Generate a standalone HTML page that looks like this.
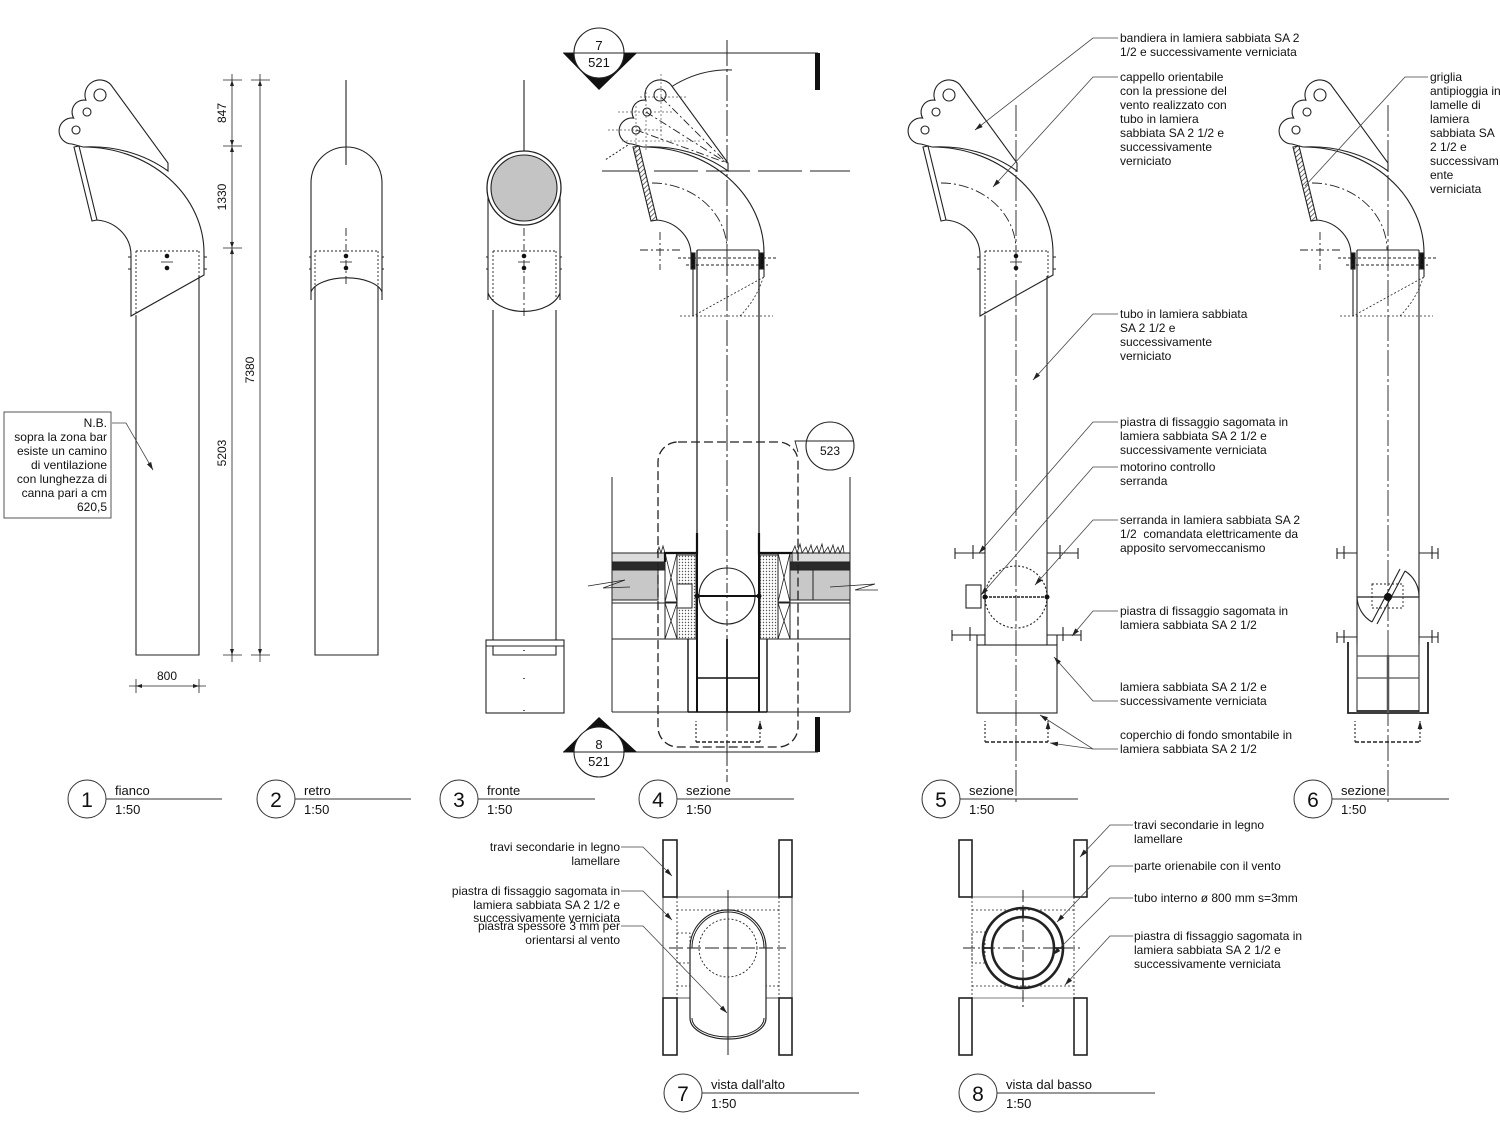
<!DOCTYPE html>
<html><head><meta charset="utf-8">
<style>
html,body{margin:0;padding:0;background:#fff;}
svg{display:block;}
text{font-family:"Liberation Sans",Arial,sans-serif;fill:#111;}
.l{font-size:12px;}
.t{font-size:13px;}
.n{font-size:21px;}
</style></head><body>
<svg width="1500" height="1125" viewBox="0 0 1500 1125" xmlns="http://www.w3.org/2000/svg">
<defs>
<marker id="ar" viewBox="0 0 10 6" refX="10" refY="3" markerWidth="8" markerHeight="5" markerUnits="userSpaceOnUse" orient="auto"><path d="M0 0 L10 3 L0 6 Z" fill="#222"/></marker>
<pattern id="hatch" width="3.5" height="3.5" patternUnits="userSpaceOnUse" patternTransform="rotate(45)"><rect width="3.5" height="3.5" fill="#fff"/><line x1="0" y1="0" x2="0" y2="3.5" stroke="#222" stroke-width="1.3"/></pattern>
<pattern id="dotp" width="3" height="3" patternUnits="userSpaceOnUse"><rect width="3" height="3" fill="#fff"/><circle cx="1.5" cy="1.5" r="0.7" fill="#555"/></pattern>
<g id="elbow" fill="none" stroke="#222" stroke-width="1.1">
 <path d="M83 147 A121 106 0 0 1 204 253"/>
 <path d="M94 220 A37 35 0 0 1 131 255"/>
</g>
<g id="flag" stroke="#222" stroke-width="1.1">
 <path d="M72 144 A13 13 0 1 1 73.7 118.1 A12 12 0 0 1 85.9 100.2 A15 15 0 0 1 110.6 84.4 L168 163 L168 171 A121 106 0 0 0 83 147 L72 144 Z" fill="#fff"/>
 <circle cx="100" cy="95" r="6" fill="#fff"/>
 <circle cx="87" cy="112" r="4" fill="#fff"/>
 <circle cx="76" cy="130" r="4" fill="#fff"/>
</g>
<polygon id="stripP" points="74,147 79,146 97,220 92,221" fill="#fff" stroke="#222" stroke-width="1.1"/>
<polygon id="stripH" points="73,147 79,146 97,220 91,221" fill="url(#hatch)" stroke="#222" stroke-width="1.1"/>
<g id="sleeveA" fill="none" stroke="#222" stroke-width="1.1">
 <path d="M131 255 L131 316 L204 275 L204 253"/>
 <path d="M136 251 L199 251 M136 251 L136 316 M199 251 L199 278" stroke-dasharray="2 2" stroke-width="0.9"/>
 <circle cx="167" cy="256" r="2.3" fill="#111" stroke="none"/>
 <circle cx="167" cy="268" r="2.3" fill="#111" stroke="none"/>
 <path d="M161 262 L173 262" stroke-width="0.8"/>
 <path d="M128 257 L131 257 M128 269 L131 269 M204 257 L207 257 M204 269 L207 269"/>
</g>
<g id="sleeveB" fill="none" stroke="#222" stroke-width="1.1">
 <path d="M137 250 L199 250"/>
 <rect x="131" y="253" width="4" height="16" fill="#111"/>
 <rect x="200" y="253" width="4" height="16" fill="#111"/>
 <path d="M118 258 L216 258 M126 265 L208 265" stroke-dasharray="3 2" stroke-width="0.9"/>
 <path d="M133 268 L133 316 M204 268 L204 277"/>
 <path d="M204 277 L133 316 M120 316 L213 316 M180 316 Q196 300 203 278" stroke-dasharray="2 2" stroke-width="0.8"/>
 <path d="M80 250 L120 250 M100 232 L100 270" stroke-dasharray="8 3 2 3" stroke-width="0.9"/>
 <path d="M92 183 A75 67 0 0 1 167 250" stroke-dasharray="10 3 2 3" stroke-width="0.9"/>
</g>
</defs>

<!-- ============ VIEW 1 ============ -->
<use href="#elbow"/>
<use href="#flag"/>
<use href="#stripP"/>
<use href="#sleeveA"/>
<path d="M136 316 L136 655 L199 655 L199 276" fill="none" stroke="#222" stroke-width="1.1"/>
<!-- dimensions -->
<g stroke="#222" stroke-width="0.8" fill="none">
 <path d="M232 74 L232 662 M260 74 L260 662"/>
 <path d="M223 80 L242 80 M223 146 L242 146 M223 248 L242 248 M223 655 L242 655 M251 80 L270 80 M251 655 L270 655"/>
 <path d="M129 686 L206 686 M136 679 L136 693 M199 679 L199 693"/>
</g>
<g fill="#222">
 <path d="M232 146 l-2 -6 l4 0 z M232 248 l-2 -6 l4 0 z M232 655 l-2 -6 l4 0 z M232 80 l-2 6 l4 0z M232 146 l-2 6 l4 0 z M232 248 l-2 6 l4 0 z M260 80 l-2 6 l4 0 z M260 655 l-2 -6 l4 0 z M136 686 l6 -2 l0 4 z M199 686 l-6 -2 l0 4 z"/>
</g>
<text class="l" transform="translate(226,113) rotate(-90)" text-anchor="middle">847</text>
<text class="l" transform="translate(226,197) rotate(-90)" text-anchor="middle">1330</text>
<text class="l" transform="translate(226,453) rotate(-90)" text-anchor="middle">5203</text>
<text class="l" transform="translate(254,370) rotate(-90)" text-anchor="middle">7380</text>
<text class="l" x="167" y="680" text-anchor="middle">800</text>
<!-- NB box -->
<rect x="4" y="412" width="107" height="106" fill="none" stroke="#444" stroke-width="0.9"/>
<g class="l" text-anchor="end">
 <text x="107" y="427">N.B.</text>
 <text x="107" y="441">sopra la zona bar</text>
 <text x="107" y="455">esiste un camino</text>
 <text x="107" y="469">di ventilazione</text>
 <text x="107" y="483">con lunghezza di</text>
 <text x="107" y="497">canna pari a cm</text>
 <text x="107" y="511">620,5</text>
</g>
<polyline points="112,423 126,423 153,470" fill="none" stroke="#444" stroke-width="0.8" marker-end="url(#ar)"/>

<!-- ============ VIEW 2 ============ -->
<g fill="none" stroke="#222" stroke-width="1.1">
 <path d="M346 80 L346 165"/>
 <path d="M311 300 L311 183 A35.5 36 0 0 1 382 183 L382 300"/>
 <path d="M311 292 A36 17 0 0 1 382 292"/>
 <path d="M315 286 L315 655 L378 655 L378 286"/>
 <path d="M315 251 L378 251 M315 251 L315 285 M378 251 L378 285" stroke-dasharray="2 2" stroke-width="0.9"/>
 <path d="M346 228 L346 286" stroke-dasharray="8 3 2 3" stroke-width="0.9"/>
 <path d="M340 262 L352 262" stroke-width="0.8"/>
 <path d="M309 257 L311 257 M309 269 L311 269 M382 257 L384 257 M382 269 L384 269"/>
</g>
<circle cx="346" cy="256" r="2.3" fill="#111"/>
<circle cx="346" cy="268" r="2.3" fill="#111"/>

<!-- ============ VIEW 3 ============ -->
<g fill="none" stroke="#222" stroke-width="1.1">
 <path d="M524 80 L524 165"/>
 <path d="M488 188 L488 300 M560 188 L560 300"/>
 <path d="M488 293 A37 24 0 0 0 560 293"/>
 <path d="M493 310 L493 655 L556 655 L556 310"/>
 <path d="M493 251 L556 251 M493 251 L493 300 M556 251 L556 300" stroke-dasharray="2 2" stroke-width="0.9"/>
 <path d="M524 228 L524 318" stroke-dasharray="8 3 2 3" stroke-width="0.9"/>
 <path d="M518 262 L530 262" stroke-width="0.8"/>
 <path d="M486 257 L488 257 M486 269 L488 269 M560 257 L562 257 M560 269 L562 269"/>
 <rect x="486" y="640" width="78" height="73" fill="#fff"/>
 <path d="M486 646 L564 646 M493 646 L493 655 L556 655 L556 646"/>
 <path d="M524 650 l0 1 M524 678 l0 1 M524 710 l0 1" stroke-width="1.5"/>
</g>
<circle cx="524" cy="188" r="37" fill="#fff" stroke="#222" stroke-width="1.3"/>
<circle cx="524" cy="188" r="33" fill="#c4c4c4" stroke="#222" stroke-width="1.1"/>
<circle cx="524" cy="256" r="2.3" fill="#111"/>
<circle cx="524" cy="268" r="2.3" fill="#111"/>

<!-- ============ VIEW 4 ============ -->
<!-- section marks -->
<path d="M563 53 L818 53 M563 752 L818 752" stroke="#222" stroke-width="1.1" fill="none"/>
<polygon points="563,53 637,53 599,90" fill="#111"/>
<circle cx="599" cy="53" r="25" fill="#fff" stroke="#222" stroke-width="1.1"/>
<path d="M574 53 L624 53" stroke="#222" stroke-width="1"/>
<text class="t" x="599" y="50" text-anchor="middle">7</text>
<text class="t" x="599" y="67" text-anchor="middle">521</text>
<rect x="815" y="53" width="5" height="37" fill="#111"/>
<polygon points="563,752 637,752 599,717" fill="#111"/>
<circle cx="599" cy="752" r="25" fill="#fff" stroke="#222" stroke-width="1.1"/>
<path d="M574 752 L624 752" stroke="#222" stroke-width="1"/>
<text class="t" x="599" y="749" text-anchor="middle">8</text>
<text class="t" x="599" y="766" text-anchor="middle">521</text>
<rect x="815" y="717" width="5" height="35" fill="#111"/>
<g fill="none" stroke="#222" stroke-width="1">
 <path d="M727 40 L727 782" stroke-dasharray="26 3 3 3"/>
 <path d="M602 171 L850 171" stroke-dasharray="44 8"/>
 <path d="M732 70 A100 95 0 0 0 650 106"/>
 <path d="M631 143 L605 160" stroke-dasharray="2 2"/>
</g>
<g transform="translate(560,0)">
 <use href="#elbow"/>
 <use href="#flag"/>
 <use href="#stripH"/>
 <use href="#sleeveB"/>
</g>
<g fill="none" stroke="#222" stroke-width="0.9">
 <path d="M661 97 L727 163 M646 112 L727 163 M636 130 L727 163" stroke-dasharray="8 3 2 3"/>
 <path d="M640 97 L686 97 M618 112 L672 112 M608 130 L662 130 M661 74 L661 140 M646 88 L646 152 M636 106 L636 162" stroke-dasharray="2 2" stroke-width="0.7" stroke="#555"/>
 <path d="M622 141 L700 141" stroke-dasharray="2 2" stroke-width="0.7" stroke="#777"/>
</g>
<!-- roof -->
<g stroke="#222" stroke-width="1">
 <rect x="612" y="553" width="53" height="9" fill="#dcdcdc"/>
 <rect x="612" y="562" width="53" height="8" fill="#2a2a2a"/>
 <rect x="612" y="570" width="46" height="30" fill="#c8c8c8"/>
 <rect x="792" y="553" width="58" height="9" fill="#dcdcdc"/>
 <rect x="790" y="562" width="60" height="8" fill="#2a2a2a"/>
 <rect x="790" y="570" width="60" height="30" fill="#c8c8c8"/>
 <path d="M813 570 L813 600 M612 603 L665 603 M790 603 L850 603 M612 639 L688 639 M767 639 L850 639 M612 712 L850 712 M612 477 L612 712 M850 477 L850 712" fill="none"/>
 <path d="M588 586 L625 580 L603 588 L630 587 M830 587 L875 584 L855 590 L878 590" fill="none" stroke-width="0.8"/>
 <path d="M792 553 l3 -7 l2 7 l3 -9 l2 9 l4 -6 l2 6 l3 -8 l2 8 l4 -7 l2 7 l3 -9 l2 9 l4 -6 l2 6 l3 -8 l2 8 l3 -6 l2 6 l3 -8 l1 8 M657 553 l2 -6 l2 6 l2 -7 l2 7" fill="none" stroke-width="0.8"/>
 <rect x="677" y="555" width="19" height="84" fill="url(#dotp)"/>
 <rect x="760" y="555" width="18" height="84" fill="url(#dotp)"/>
 <rect x="665" y="553" width="12" height="49" fill="#fff"/>
 <rect x="665" y="603" width="12" height="36" fill="#fff"/>
 <rect x="778" y="553" width="12" height="49" fill="#fff"/>
 <rect x="778" y="603" width="12" height="36" fill="#fff"/>
 <path d="M665 553 L677 602 M677 553 L665 602 M665 603 L677 639 M677 603 L665 639 M778 553 L790 602 M790 553 L778 602 M778 603 L790 639 M790 603 L778 639" fill="none" stroke-width="0.8"/>
 <rect x="677" y="584" width="15" height="24" fill="#fff"/>
</g>
<g fill="none" stroke="#111">
 <path d="M697 250 L697 533 M759 250 L759 533" stroke-width="1.2"/>
 <path d="M697 533 L697 712 M759 533 L759 712" stroke-width="2"/>
 <path d="M697 533 L697 553 L665 553 L665 562 M759 533 L759 553 L792 553" stroke-width="2.2"/>
 <path d="M688 639 L688 712 M767 639 L767 712" stroke-width="1.4"/>
 <path d="M697 678 L759 678 M688 712 L767 712" stroke-width="1.6"/>
 <path d="M727 639 L727 712" stroke-width="1.8"/>
</g>
<circle cx="727" cy="596" r="28" fill="#fff" stroke="#222" stroke-width="1.1"/>
<path d="M697 596 L759 596" stroke="#111" stroke-width="2"/>
<circle cx="697" cy="596" r="2.5" fill="#111"/>
<circle cx="759" cy="596" r="2.5" fill="#111"/>
<path d="M727 565 L727 625" stroke="#222" stroke-dasharray="10 3 2 3"/>
<g fill="none" stroke="#222" stroke-width="1.1">
 <path d="M696 742 L760 742" stroke-dasharray="4 2" stroke-width="1.6"/>
 <path d="M696 742 L696 721 M760 742 L760 721" stroke-dasharray="2 2" marker-end="url(#ar)"/>
</g>
<rect x="658" y="442" width="140" height="305" rx="20" fill="none" stroke="#222" stroke-width="1.3" stroke-dasharray="9 4"/>
<circle cx="830" cy="446" r="24" fill="#fff" stroke="#222" stroke-width="1.1"/>
<path d="M806 441 L854 441 M806 441 L795 441 L798 452" stroke="#222" stroke-width="0.9" fill="none"/>
<text class="l" x="830" y="455" text-anchor="middle">523</text>

<!-- ============ VIEW 5 ============ -->
<path d="M1016 105 L1016 805" stroke="#222" stroke-width="0.9" stroke-dasharray="26 3 3 3" fill="none"/>
<g transform="translate(849,0)">
 <use href="#elbow"/>
 <use href="#flag"/>
 <use href="#stripP"/>
 <use href="#sleeveA"/>
 <path d="M92 183 A75 67 0 0 1 167 250" fill="none" stroke="#222" stroke-width="0.9" stroke-dasharray="10 3 2 3"/>
</g>
<g fill="none" stroke="#222" stroke-width="1.1">
 <path d="M985 316 L985 645 M1047 276 L1047 645"/>
 <path d="M955 553 L985 553 M1047 553 L1078 553 M955 548 L955 559 M973 545 L973 559 M1060 545 L1060 559 M1078 548 L1078 559"/>
 <path d="M952 635 L985 635 M1047 635 L1081 635 M952 630 L952 641 M970 627 L970 641 M1063 627 L1063 641 M1081 630 L1081 641"/>
 <path d="M977 635 L977 645 M1057 635 L1057 645"/>
 <rect x="977" y="645" width="80" height="68"/>
 <rect x="966" y="585" width="15" height="23"/>
 <circle cx="1016" cy="597" r="31" stroke-dasharray="2 2"/>
 <path d="M985 597 L1047 597" stroke-width="1.6" stroke-dasharray="3 1"/>
 <path d="M985 742 L1048 742" stroke-dasharray="4 2" stroke-width="1.6"/>
 <path d="M985 742 L985 721 M1048 742 L1048 721" stroke-dasharray="2 2" marker-end="url(#ar)"/>
</g>
<circle cx="985" cy="597" r="2.5" fill="#111"/>
<circle cx="1047" cy="597" r="2.5" fill="#111"/>

<!-- ============ VIEW 6 ============ -->
<path d="M1388 105 L1388 805" stroke="#222" stroke-width="0.9" stroke-dasharray="26 3 3 3" fill="none"/>
<g transform="translate(1220,0)">
 <use href="#elbow"/>
 <use href="#flag"/>
 <use href="#stripH"/>
 <use href="#sleeveB"/>
</g>
<g fill="none" stroke="#222" stroke-width="1.1">
 <path d="M1357 250 L1357 645 M1419 250 L1419 645"/>
 <path d="M1337 553 L1357 553 M1419 553 L1438 553 M1337 548 L1337 559 M1344 546 L1344 559 M1432 546 L1432 559 M1438 548 L1438 559"/>
 <path d="M1337 637 L1357 637 M1419 637 L1438 637 M1337 632 L1337 643 M1344 630 L1344 643 M1432 630 L1432 643 M1438 632 L1438 643"/>
 <path d="M1348 642 L1348 713 L1428 713 L1428 642" stroke-width="1.8"/>
 <path d="M1357 642 L1357 713 M1419 642 L1419 713" stroke-width="1.3" stroke="#555"/>
 <path d="M1357 656 L1419 656 M1357 678 L1419 678" stroke="#555" stroke-width="1.3"/>
 <path d="M1357 711 L1419 711" stroke-width="1.8"/>
 <path d="M1388 655 L1388 713" stroke-width="2.5" stroke="#555"/>
 <path d="M1357 597 L1419 597" stroke-width="1.3"/>
 <path d="M1372 622 L1400 569 M1377 624 L1405 571" stroke-width="1.1"/>
 <path d="M1405 571 A30 30 0 0 1 1419 597 M1357 597 A30 30 0 0 0 1372 622"/>
 <rect x="1372" y="584" width="31" height="24" stroke-dasharray="2 2" stroke-width="0.9"/>
 <path d="M1355 742 L1420 742" stroke-dasharray="4 2" stroke-width="1.6"/>
 <path d="M1355 742 L1355 721 M1420 742 L1420 721" stroke-dasharray="2 2" marker-end="url(#ar)"/>
</g>
<circle cx="1388" cy="597" r="4" fill="#111"/>

<!-- ============ VIEW 7 ============ -->
<g fill="none" stroke="#222">
 <path d="M663 897 L663 998 M792 897 L792 998 M677 897 L779 897 M677 998 L779 998" stroke-width="0.8"/>
 <path d="M677 910 L779 910 M677 986 L779 986 M677 897 L677 998 M779 897 L779 998" stroke-dasharray="2 2" stroke-width="0.8"/>
 <rect x="677" y="933" width="13" height="30" stroke-dasharray="2 2" stroke-width="0.8"/>
 <path d="M690 948 A38 38 0 0 1 766 948 L766 1018 A38 21 0 0 1 690 1018 Z" fill="#fff" stroke-width="1.2"/>
 <path d="M692 948 A36 36 0 0 1 764 948 M692 1018 A36 19 0 0 0 764 1018" stroke-width="1"/>
 <circle cx="728" cy="948" r="29" stroke-dasharray="2 2" stroke-width="0.9"/>
 <path d="M669 948 L786 948" stroke-dasharray="14 4" stroke-width="1"/>
 <path d="M728 890 L728 1055" stroke-width="1"/>
 <g stroke-width="1.6" fill="#fff">
  <rect x="663" y="840" width="14" height="57"/>
  <rect x="779" y="840" width="13" height="57"/>
  <rect x="663" y="998" width="14" height="57"/>
  <rect x="779" y="998" width="13" height="57"/>
 </g>
</g>
<g class="l" text-anchor="end">
 <text x="620" y="851">travi secondarie in legno</text>
 <text x="620" y="865">lamellare</text>
 <text x="620" y="895">piastra di fissaggio sagomata in</text>
 <text x="620" y="909">lamiera sabbiata SA 2 1/2 e</text>
 <text x="620" y="922">successivamente verniciata</text>
 <text x="620" y="930">piastra spessore 3 mm per</text>
 <text x="620" y="944">orientarsi al vento</text>
</g>
<g fill="none" stroke="#444" stroke-width="0.8">
 <polyline points="621,847 643,847 672,876" marker-end="url(#ar)"/>
 <polyline points="621,891 643,891 672,920" marker-end="url(#ar)"/>
 <polyline points="621,926 643,926 727,1013" marker-end="url(#ar)"/>
</g>

<!-- ============ VIEW 8 ============ -->
<g fill="none" stroke="#222">
 <path d="M959 897 L1087 897 M959 998 L1087 998" stroke-width="0.8" stroke="#555"/>
 <path d="M972 910 L1074 910 M972 986 L1074 986 M972 897 L972 998 M1074 897 L1074 998" stroke-dasharray="2 2" stroke-width="0.8"/>
 <rect x="972" y="932" width="13" height="31" stroke-dasharray="2 2" stroke-width="0.8"/>
 <circle cx="1023" cy="948" r="40" stroke-width="2.6"/>
 <circle cx="1023" cy="948" r="31" stroke-width="2.6"/>
 <path d="M963 948 L1083 948" stroke-dasharray="12 3 2 3" stroke-width="1"/>
 <path d="M1023 890 L1023 1007" stroke-dasharray="12 3 2 3" stroke-width="1"/>
 <path d="M1023 908 L1023 918 M1023 978 L1023 988 M983 948 L992 948 M1054 948 L1063 948" stroke-width="1.8"/>
 <g stroke-width="1.6" fill="#fff">
  <rect x="959" y="840" width="13" height="57"/>
  <rect x="1074" y="840" width="13" height="57"/>
  <rect x="959" y="998" width="13" height="57"/>
  <rect x="1074" y="998" width="13" height="57"/>
 </g>
</g>
<g class="l">
 <text x="1134" y="829">travi secondarie in legno</text>
 <text x="1134" y="843">lamellare</text>
 <text x="1134" y="870">parte orienabile con il vento</text>
 <text x="1134" y="902">tubo interno ø 800 mm s=3mm</text>
 <text x="1134" y="940">piastra di fissaggio sagomata in</text>
 <text x="1134" y="954">lamiera sabbiata SA 2 1/2 e</text>
 <text x="1134" y="968">successivamente verniciata</text>
</g>
<g fill="none" stroke="#444" stroke-width="0.8">
 <polyline points="1133,825 1110,825 1080,857" marker-end="url(#ar)"/>
 <polyline points="1133,866 1110,866 1057,922" marker-end="url(#ar)"/>
 <polyline points="1133,898 1110,898 1053,955" marker-end="url(#ar)"/>
 <polyline points="1133,936 1110,936 1065,985" marker-end="url(#ar)"/>
</g>

<!-- ============ VIEW 5 LABELS ============ -->
<g class="l">
 <text x="1120" y="42">bandiera in lamiera sabbiata SA 2</text>
 <text x="1120" y="56">1/2 e successivamente verniciata</text>
 <text x="1120" y="81">cappello orientabile</text>
 <text x="1120" y="95">con la pressione del</text>
 <text x="1120" y="109">vento realizzato con</text>
 <text x="1120" y="123">tubo in lamiera</text>
 <text x="1120" y="137">sabbiata SA 2 1/2 e</text>
 <text x="1120" y="151">successivamente</text>
 <text x="1120" y="165">verniciato</text>
 <text x="1120" y="318">tubo in lamiera sabbiata</text>
 <text x="1120" y="332">SA 2 1/2 e</text>
 <text x="1120" y="346">successivamente</text>
 <text x="1120" y="360">verniciato</text>
 <text x="1120" y="426">piastra di fissaggio sagomata in</text>
 <text x="1120" y="440">lamiera sabbiata SA 2 1/2 e</text>
 <text x="1120" y="454">successivamente verniciata</text>
 <text x="1120" y="471">motorino controllo</text>
 <text x="1120" y="485">serranda</text>
 <text x="1120" y="524">serranda in lamiera sabbiata SA 2</text>
 <text x="1120" y="538" xml:space="preserve">1/2  comandata elettricamente da</text>
 <text x="1120" y="552">apposito servomeccanismo</text>
 <text x="1120" y="615">piastra di fissaggio sagomata in</text>
 <text x="1120" y="629">lamiera sabbiata SA 2 1/2</text>
 <text x="1120" y="691">lamiera sabbiata SA 2 1/2 e</text>
 <text x="1120" y="705">successivamente verniciata</text>
 <text x="1120" y="739">coperchio di fondo smontabile in</text>
 <text x="1120" y="753">lamiera sabbiata SA 2 1/2</text>
</g>
<g fill="none" stroke="#444" stroke-width="0.8">
 <polyline points="1118,38 1093,38 975,130" marker-end="url(#ar)"/>
 <polyline points="1118,77 1093,77 993,187" marker-end="url(#ar)"/>
 <polyline points="1118,314 1093,314 1033,380" marker-end="url(#ar)"/>
 <polyline points="1118,422 1093,422 979,553" marker-end="url(#ar)"/>
 <polyline points="1118,467 1093,467 981,595" marker-end="url(#ar)"/>
 <polyline points="1118,520 1093,520 1035,585" marker-end="url(#ar)"/>
 <polyline points="1118,611 1093,611 1072,636" marker-end="url(#ar)"/>
 <polyline points="1118,701 1093,701 1054,657" marker-end="url(#ar)"/>
 <polyline points="1118,749 1093,749 1040,715" marker-end="url(#ar)"/>
 <polyline points="1093,749 1050,743" marker-end="url(#ar)"/>
</g>

<!-- ============ VIEW 6 LABELS ============ -->
<g class="l">
 <text x="1430" y="81">griglia</text>
 <text x="1430" y="95">antipioggia in</text>
 <text x="1430" y="109">lamelle di</text>
 <text x="1430" y="123">lamiera</text>
 <text x="1430" y="137">sabbiata SA</text>
 <text x="1430" y="151">2 1/2 e</text>
 <text x="1430" y="165">successivam</text>
 <text x="1430" y="179">ente</text>
 <text x="1430" y="193">verniciata</text>
</g>
<polyline points="1428,77 1405,77 1305,186" fill="none" stroke="#444" stroke-width="0.8"/>

<!-- ============ TITLES ============ -->
<g stroke="#333" stroke-width="1" fill="none">
 <circle cx="87" cy="799" r="19"/><path d="M106 799 L222 799"/>
 <circle cx="276" cy="799" r="19"/><path d="M295 799 L411 799"/>
 <circle cx="459" cy="799" r="19"/><path d="M478 799 L595 799"/>
 <circle cx="658" cy="799" r="19"/><path d="M677 799 L794 799"/>
 <circle cx="941" cy="799" r="19"/><path d="M960 799 L1078 799"/>
 <circle cx="1313" cy="799" r="19"/><path d="M1332 799 L1449 799"/>
 <circle cx="683" cy="1093" r="19"/><path d="M702 1093 L859 1093"/>
 <circle cx="978" cy="1093" r="19"/><path d="M997 1093 L1155 1093"/>
</g>
<g class="n" text-anchor="middle">
 <text x="87" y="807">1</text>
 <text x="276" y="807">2</text>
 <text x="459" y="807">3</text>
 <text x="658" y="807">4</text>
 <text x="941" y="807">5</text>
 <text x="1313" y="807">6</text>
 <text x="683" y="1101">7</text>
 <text x="978" y="1101">8</text>
</g>
<g class="t">
 <text x="115" y="795">fianco</text><text x="115" y="814">1:50</text>
 <text x="304" y="795">retro</text><text x="304" y="814">1:50</text>
 <text x="487" y="795">fronte</text><text x="487" y="814">1:50</text>
 <text x="686" y="795">sezione</text><text x="686" y="814">1:50</text>
 <text x="969" y="795">sezione</text><text x="969" y="814">1:50</text>
 <text x="1341" y="795">sezione</text><text x="1341" y="814">1:50</text>
 <text x="711" y="1089">vista dall'alto</text><text x="711" y="1108">1:50</text>
 <text x="1006" y="1089">vista dal basso</text><text x="1006" y="1108">1:50</text>
</g>
</svg>
</body></html>
